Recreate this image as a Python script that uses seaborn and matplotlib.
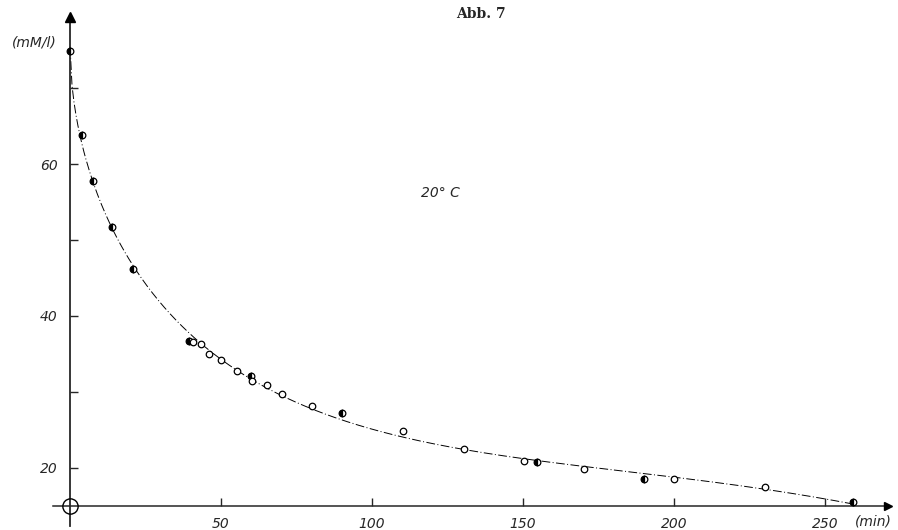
import numpy as np
import pandas as pd
import matplotlib
matplotlib.use("Agg")
import matplotlib.pyplot as plt
import seaborn as sns

# ---- data ----
filled_t = [0, 4, 7.6, 13.9, 20.9, 39.4, 59.9, 90.1, 154.6, 190.1, 259.3]
filled_c = [74.9, 63.8, 57.8, 51.7, 46.2, 36.7, 32.1, 27.2, 20.8, 18.6, 15.5]
open_t = [40.7, 43.4, 46.0, 50.0, 55.3, 60.3, 65.2, 70.2, 80.1, 110.3, 130.5, 150.3, 170.2, 200.0, 230.1]
open_c = [36.6, 36.3, 35.0, 34.2, 32.8, 31.4, 30.9, 29.7, 28.2, 24.9, 22.5, 20.9, 19.9, 18.6, 17.5]
x_ticks = [50, 100, 150, 200, 250]
y_ticks = [20, 30, 40, 50, 60, 70]
y_labeled = [20, 40, 60]
title = "Abb. 7"
temp_label = "20° C"
y_unit = "(mM/l)"
x_unit = "(min)"

sns.set_style("white")
plt.rcParams["font.family"] = ["DejaVu Sans"]

fig = plt.figure(figsize=(8.98, 5.30), dpi=100)
ax = fig.add_axes([0, 0, 1, 1])
ax.set_xlim(-23.2, 274.2)
ax.set_ylim(11.84, 81.58)

# smooth fitted curve through all observations
all_t = np.array(filled_t + open_t)
all_c = np.array(filled_c + open_c)
coef = np.polyfit(np.sqrt(all_t), all_c, 4)
grid = np.linspace(0, max(filled_t), 400)
curve = pd.DataFrame({"t": grid, "c": np.polyval(coef, np.sqrt(grid))})
sns.lineplot(data=curve, x="t", y="c", ax=ax, color="black", lw=0.7,
             dashes=False, linestyle=(0, (9, 2.5, 1, 2.5)), zorder=2)

fd = pd.DataFrame({"t": filled_t, "c": filled_c})
sns.lineplot(data=fd, x="t", y="c", ax=ax, color="black", linestyle="",
             marker="o", markersize=4.8, fillstyle="left",
             markerfacecoloralt="white", markeredgecolor="black",
             markeredgewidth=0.9, zorder=4)
od = pd.DataFrame({"t": open_t, "c": open_c})
sns.scatterplot(data=od, x="t", y="c", ax=ax, s=22, facecolor="white",
                edgecolor="black", linewidth=0.9, zorder=4)

# axes as in the drawing
for s in ["top", "right"]:
    ax.spines[s].set_visible(False)
ax.spines["left"].set_position(("data", 0))
ax.spines["bottom"].set_position(("data", 15))
ax.spines["left"].set_bounds(12.4, 79.5)
ax.spines["bottom"].set_bounds(-5.5, 270)
ax.spines["left"].set_linewidth(1.3)
ax.spines["bottom"].set_linewidth(1.1)
ax.plot([0], [79.3], marker="^", ms=7, color="black", zorder=5)
ax.plot([271], [15], marker=">", ms=6, color="black", zorder=5)
ax.plot([0], [15], marker="o", ms=11, mfc="none", mec="black", mew=1.0, zorder=5)

ax.set_xticks(x_ticks)
ax.set_xticklabels([str(v) for v in x_ticks], fontstyle="italic", fontsize=10)
ax.set_yticks(y_ticks)
ax.set_yticklabels([str(v) if v in y_labeled else "" for v in y_ticks],
                   fontstyle="italic", fontsize=10)
ax.tick_params(axis="y", direction="in", length=6, width=1, pad=9, left=True)
ax.tick_params(axis="x", direction="in", length=6, width=1, pad=8, bottom=True)
ax.set_xlabel("")
ax.set_ylabel("")

ax.text(-4.3, 76.05, y_unit, fontstyle="italic", fontsize=10, ha="right", va="center")
ax.text(272, 12.95, x_unit, fontstyle="italic", fontsize=10, ha="right", va="center")
ax.text(122.5, 56.2, temp_label, fontstyle="italic", fontsize=10, ha="center", va="center")
ax.text(136, 79.7, title, fontfamily="DejaVu Serif", fontweight="bold",
        fontsize=10, ha="center", va="center")

fig.savefig("out.png", dpi=100)
